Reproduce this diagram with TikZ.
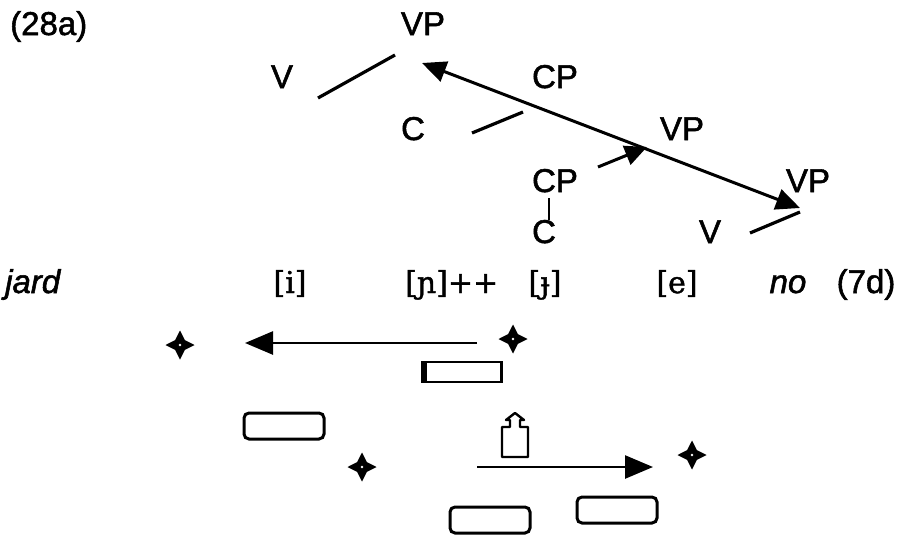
\documentclass[tikz,border=0pt]{standalone}
\usepackage{fontspec}
\setmainfont[FakeBold=1.6]{Liberation Sans}
\newfontfamily\ipafont[FakeBold=1.4]{DejaVu Serif}
\usetikzlibrary{arrows.meta,shapes.geometric}

\begin{document}
\begin{tikzpicture}[
  x=1pt, y=-1pt,
  font=\fontsize{33}{36}\selectfont,
  cat/.style   ={anchor=base, inner sep=0pt},
  seg/.style   ={anchor=base, inner sep=0pt, font=\fontsize{30}{36}\selectfont\ipafont},
  branch/.style={line width=3.2pt},
  move/.style  ={line width=3pt, {Triangle[length=24pt,width=21pt]}-{Triangle[length=24pt,width=21pt]}},
  push/.style  ={line width=3pt, -{Triangle[length=22pt,width=20pt]}},
  flow/.style  ={line width=2.6pt, -{Triangle[length=28pt,width=23pt]}},
  spark/.style ={star, star points=4, star point ratio=2.1, fill=black, minimum size=29pt, inner sep=0pt},
  slot/.style  ={draw, line width=3pt, rounded corners=5pt, minimum width=80pt, minimum height=26pt, inner sep=0pt},
  bar/.style   ={draw, line width=2.8pt, minimum width=79pt, minimum height=20pt, inner sep=0pt},
]
\useasboundingbox (0,0) rectangle (909,536);

% tree
\node[cat, anchor=base west] (ex) at (10,35) {(28a)};
\node[cat] (vp1) at (423,35)  {VP};
\node[cat] (v1)  at (282,88)  {V};
\node[cat] (cp1) at (555,88)  {CP};
\node[cat] (c1)  at (413,140) {C};
\node[cat] (vp2) at (682,140) {VP};
\node[cat] (cp2) at (555,192) {CP};
\node[cat] (vp3) at (808,192) {VP};
\node[cat] (c2)  at (544,243) {C};
\node[cat] (v2)  at (710,243) {V};

\coordinate (v1-a) at (318,98);  \coordinate (v1-b) at (395,55);
\coordinate (c1-a) at (472,133); \coordinate (c1-b) at (523,112);
\coordinate (c2-a) at (549,198); \coordinate (c2-b) at (549,220);
\coordinate (v2-a) at (750,233); \coordinate (v2-b) at (800,212);
\coordinate (mv-a) at (422,63);  \coordinate (mv-b) at (800,208);
\coordinate (ps-a) at (598,167); \coordinate (ps-b) at (647,147);

\draw[branch] (v1-a) -- (v1-b);
\draw[branch] (c1-a) -- (c1-b);
\draw[line width=2.4pt] (c2-a) -- (c2-b);
\draw[branch] (v2-a) -- (v2-b);
\draw[move] (mv-a) -- (mv-b);
\draw[push] (ps-a) -- (ps-b);

% segments
\node[cat, anchor=base west] (jard) at (5,293) {\itshape jard};
\node[seg] (si) at (290,293) {[i]};
\node[seg, anchor=base west] (sn) at (405,293) {[ɲ]++};
\node[seg] (sj) at (545,293) {[ɟ]};
\node[seg] (se) at (677,293) {[e]};
\node[cat] (no) at (788,293) {\itshape no};
\node[cat] (ref) at (866,293) {(7d)};

% spreading
\node[spark] (st1) at (180,345) {};
\node[spark] (st2) at (513,339) {};
\node[spark] (st3) at (362,467) {};
\node[spark] (st4) at (692,455) {};
\foreach \s in {st1,st2,st3,st4} \fill[white] (\s) circle (1.3pt);

\coordinate (la-a) at (477,343); \coordinate (la-b) at (245,343);
\coordinate (ra-a) at (477,467); \coordinate (ra-b) at (653,467);
\draw[flow] (la-a) -- (la-b);
\draw[flow] (ra-a) -- (ra-b);

\node[bar] (bar1) at (462,372) {};
\fill (bar1.north west) rectangle ([xshift=6pt]bar1.south west);

\node[slot] (sl1) at (284,426) {};
\node[slot] (sl2) at (490,520) {};
\node[slot] (sl3) at (617,510) {};

\coordinate (lift) at (515,457);
\draw[line width=2.4pt, line join=round]
  (lift) +(-13,0) -- +(-13,-30) -- +(-5,-30) -- +(-5,-37) -- +(-9,-37)
  -- +(0,-44) -- +(9,-37) -- +(5,-37) -- +(5,-30) -- +(13,-30) -- +(13,0) -- cycle;

\end{tikzpicture}
\end{document}
